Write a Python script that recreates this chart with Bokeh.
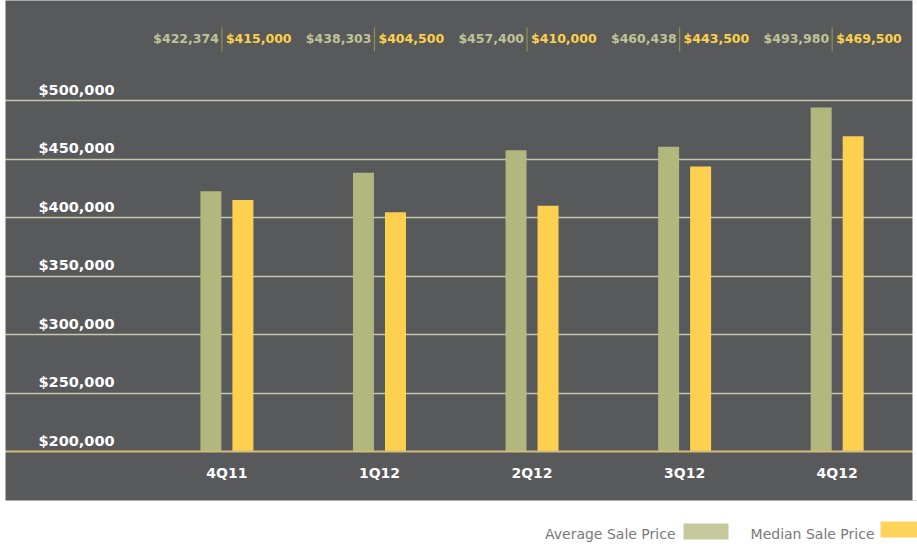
from bokeh.plotting import figure
from bokeh.models import Range1d, ColumnDataSource, BoxAnnotation, Label, FixedTicker, Span
from bokeh.core.properties import value
from bokeh.embed import file_html
from bokeh.resources import INLINE

# ---- data ----
quarters = ["4Q11", "1Q12", "2Q12", "3Q12", "4Q12"]
avg_price = [422374, 438303, 457400, 460438, 493980]
median_price = [415000, 404500, 410000, 443500, 469500]
y_ticks = [200000, 250000, 300000, 350000, 400000, 450000, 500000]
series_names = ["Average Sale Price", "Median Sale Price"]

# ---- colours / styles ----
BG = "#58595b"
AVG_C = "#b1b77d"
MED_C = "#fed050"
AVG_TXT = "#bfc396"
MED_TXT = "#fdd14a"
GRID_C = "#c5c8ad"
BASE_C = "#d2bc78"
FONT = "DejaVu Sans"

# ---- layout (pixels) ----
W, H = 917, 544
PX_PER_X = 152.57          # pixels per category step
X0_PX = 226.4              # px of first category centre
PX_PER_Y = 1.17 / 1000     # pixels per dollar
YBASE_PX = 451             # px of the lowest tick

x_start = -X0_PX / PX_PER_X
x_end = (W - X0_PX) / PX_PER_X
y_end = y_ticks[0] + YBASE_PX / PX_PER_Y
y_start = y_ticks[0] - (H - YBASE_PX) / PX_PER_Y


def cx(px):
    """page px -> data x"""
    return x_start + px / PX_PER_X


def cy(py):
    """page px -> data y"""
    return y_end - py / PX_PER_Y


xs = list(range(len(quarters)))
bar_w = 21 / PX_PER_X
dodge = 16 / PX_PER_X
sep = 5 / PX_PER_X

src = ColumnDataSource(dict(
    x=xs,
    x_avg=[x - dodge for x in xs],
    x_med=[x + dodge for x in xs],
    x_sep=[x - sep for x in xs],
    q=quarters,
    avg=avg_price,
    med=median_price,
    avg_lbl=[f"${v:,}" for v in avg_price],
    med_lbl=[f"${v:,}" for v in median_price],
    base=[y_ticks[0]] * len(xs),
    top_row=[y_end] * len(xs),
    sep_y0=[cy(27)] * len(xs),
    sep_y1=[cy(51)] * len(xs),
))

p = figure(width=W, height=H, output_backend="svg", toolbar_location=None,
           x_range=Range1d(x_start, x_end), y_range=Range1d(y_start, y_end),
           x_axis_location=None, y_axis_location=None, min_border=0,
           background_fill_color=BG, border_fill_color="white")
p.outline_line_color = None
p.xgrid.visible = False
p.ygrid.ticker = FixedTicker(ticks=y_ticks[1:])
p.ygrid.grid_line_color = GRID_C
p.ygrid.grid_line_width = 1.5

# white areas outside the dark panel
big = 1e6
p.quad(left=x_start - 1, right=x_end + 1, bottom=y_start - big, top=cy(500),
       fill_color="white", line_color=None, level="underlay")
p.quad(left=[cx(912), x_start - 1], right=[x_end + 1, cx(5)],
       bottom=[cy(500), y_start - big], top=[y_end + big, y_end + big],
       fill_color="white", line_color=None, level="overlay")

p.add_layout(Span(location=y_ticks[0], dimension="width", line_color=BASE_C, line_width=2))

# bars
p.vbar(x="x_avg", top="avg", bottom="base", width=bar_w, source=src,
       fill_color=AVG_C, line_color=None)
p.vbar(x="x_med", top="med", bottom="base", width=bar_w, source=src,
       fill_color=MED_C, line_color=None)

# y tick labels (inside panel, above grid lines)
tsrc = ColumnDataSource(dict(x=[x_start] * len(y_ticks), y=y_ticks,
                             t=[f"${v:,}" for v in y_ticks]))
p.text(x="x", y="y", text="t", source=tsrc, x_offset=38, y_offset=-11,
       text_baseline="alphabetic", text_align="left", text_color="white",
       text_font=value(FONT), text_font_style="bold", text_font_size="14.5px")

# category labels
p.text(x="x", y="base", text="q", source=src, y_offset=21, text_align="center",
       text_baseline="middle", text_color="white", text_font=value(FONT),
       text_font_style="bold", text_font_size="14px")

# value labels row at top
p.text(x="x_sep", y="top_row", text="avg_lbl", source=src, x_offset=-3, y_offset=38,
       text_align="right", text_baseline="middle", text_color=AVG_TXT,
       text_font=value(FONT), text_font_style="bold", text_font_size="12.5px")
p.text(x="x_sep", y="top_row", text="med_lbl", source=src, x_offset=4, y_offset=38,
       text_align="left", text_baseline="middle", text_color=MED_TXT,
       text_font=value(FONT), text_font_style="bold", text_font_size="12.5px")
p.segment(x0="x_sep", y0="sep_y0", x1="x_sep", y1="sep_y1", source=src,
          line_color="#8d9050", line_width=1.2)

# legend (label first, swatch after)
p.add_layout(Label(x=675, y=H - 533, x_units="screen", y_units="screen",
                   text=series_names[0], text_align="right", text_baseline="middle",
                   text_color="#7a7a7a", text_font=FONT, text_font_size="14px",
                   level="overlay"))
p.add_layout(BoxAnnotation(left=cx(683), right=cx(728), bottom=cy(539), top=cy(523),
                           fill_color="#c5c99b", fill_alpha=1, line_alpha=0, level="overlay"))
p.add_layout(Label(x=874, y=H - 533, x_units="screen", y_units="screen",
                   text=series_names[1], text_align="right", text_baseline="middle",
                   text_color="#7a7a7a", text_font=FONT, text_font_size="14px",
                   level="overlay"))
p.add_layout(BoxAnnotation(left=cx(880), right=x_end, bottom=cy(537), top=cy(521),
                           fill_color="#fed35a", fill_alpha=1, line_alpha=0, level="overlay"))

open("out.html", "w").write(file_html(p, INLINE))
